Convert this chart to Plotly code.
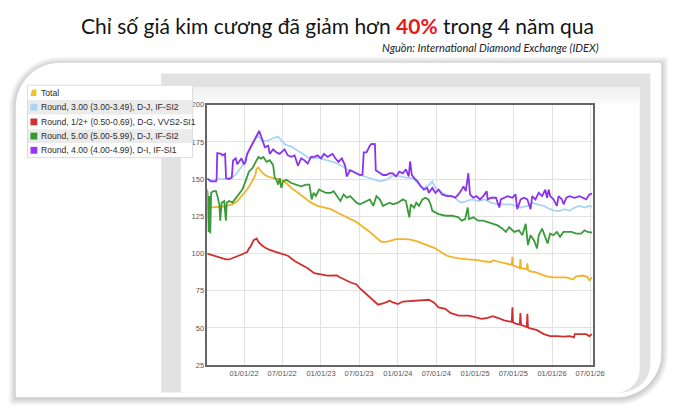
import plotly.graph_objects as go

W, H = 690, 419

# ---------------- data ----------------
series_names = [
    "Total",
    "Round, 3.00 (3.00-3.49), D-J, IF-SI2",
    "Round, 1/2+ (0.50-0.69), D-G, VVS2-SI1",
    "Round, 5.00 (5.00-5.99), D-J, IF-SI2",
    "Round, 4.00 (4.00-4.99), D-I, IF-SI1",
]

total_dates = ["2021-07-10","2021-08-05","2021-09-21","2021-11-07","2021-11-30","2021-12-24","2022-01-16","2022-02-09","2022-02-24","2022-03-02","2022-03-10","2022-03-25","2022-04-10","2022-05-03","2022-05-27","2022-06-27","2022-07-20","2022-08-13","2022-09-14","2022-10-14","2022-11-15","2022-12-16","2023-01-16","2023-02-17","2023-03-18","2023-04-18","2023-05-19","2023-06-19","2023-07-20","2023-08-21","2023-09-21","2023-10-14","2023-11-07","2023-11-30","2023-12-23","2024-01-24","2024-02-24","2024-03-26","2024-04-26","2024-05-27","2024-06-27","2024-07-28","2024-08-21","2024-09-14","2024-10-14","2024-11-30","2024-12-24","2025-01-16","2025-02-09","2025-03-02","2025-03-18","2025-03-26","2025-04-18","2025-05-11","2025-06-04","2025-06-24","2025-06-27","2025-06-30","2025-07-20","2025-08-01","2025-08-04","2025-08-07","2025-08-21","2025-09-03","2025-09-06","2025-09-09","2025-09-21","2025-10-14","2025-11-07","2025-12-08","2026-01-08","2026-02-08","2026-03-10","2026-04-10","2026-04-26","2026-05-27","2026-06-19","2026-06-27","2026-07-10"]
total_values = [131,131,131.6,133.1,135.3,139,143,148.5,152.8,157.2,157.9,155,152.8,151.3,150.7,149.6,147.4,144.1,140.8,137.5,134.2,132,130.9,129.8,127.6,125.4,123.2,121.1,117.8,114.5,110.6,107.9,107.9,109,109.7,109.7,109.5,108.5,107,105.5,103.5,100.5,98.5,97.5,96.7,96,95.8,95.6,94.8,94.5,94.3,95.5,94.5,93.8,93,92.3,97.8,92,91,90.1,96.3,90.1,89.9,89.5,93.4,88.8,87.9,87.5,86.2,84.6,84,84.2,84,82.5,84.6,85.2,84.2,82,84]

r300_dates = ["2021-07-10","2021-08-05","2021-09-06","2021-10-07","2021-11-07","2021-11-23","2021-12-08","2021-12-24","2022-01-08","2022-01-24","2022-02-09","2022-02-24","2022-03-10","2022-03-25","2022-04-10","2022-04-26","2022-05-11","2022-05-27","2022-06-12","2022-06-27","2022-07-12","2022-07-28","2022-08-13","2022-08-29","2022-09-14","2022-09-29","2022-10-14","2022-10-30","2022-11-15","2022-11-30","2022-12-16","2023-01-01","2023-02-01","2023-03-02","2023-03-18","2023-04-03","2023-04-18","2023-05-03","2023-06-04","2023-07-05","2023-08-05","2023-09-06","2023-10-07","2023-11-07","2023-12-08","2024-01-08","2024-02-08","2024-03-10","2024-03-26","2024-04-10","2024-05-03","2024-05-27","2024-06-12","2024-06-27","2024-07-20","2024-08-13","2024-09-06","2024-09-29","2024-10-14","2024-10-30","2024-11-23","2024-12-16","2025-01-16","2025-02-16","2025-03-18","2025-04-18","2025-05-19","2025-06-19","2025-07-12","2025-08-05","2025-09-06","2025-09-29","2025-10-22","2025-11-23","2025-12-23","2026-01-16","2026-02-08","2026-03-02","2026-03-26","2026-04-18","2026-05-11","2026-06-04","2026-06-27","2026-07-10"]
r300_values = [150,149.5,150,150,151.5,153,156,159,164,169,173.7,177,179,176,175.5,176,177,178,178.5,176,173.7,172.5,172,170.5,169.3,168,166.5,164.5,164,164,164.5,164,162.7,161.5,160.5,159.4,158.3,156.5,155,152.8,151.3,150,148.5,149.5,152.5,152,151,150.7,148.5,146.5,144.1,146,148.5,144.1,141.9,139.7,138.6,137.5,135.3,134.2,135.3,136.4,135.3,136.4,134.2,133.1,133.1,133.1,132,130.9,132,134.2,133.1,132,129.8,128.7,128.7,129.8,128.7,130.9,132,130.9,132,131.5]

r050_dates = ["2021-07-10","2021-08-05","2021-08-21","2021-09-06","2021-09-21","2021-10-07","2021-10-22","2021-11-07","2021-11-23","2021-12-08","2021-12-24","2022-01-08","2022-01-16","2022-01-24","2022-02-01","2022-02-16","2022-03-02","2022-03-10","2022-03-25","2022-04-10","2022-05-03","2022-05-27","2022-06-27","2022-07-28","2022-08-29","2022-09-29","2022-10-30","2022-11-30","2023-01-01","2023-02-01","2023-03-18","2023-03-26","2023-04-18","2023-05-19","2023-06-19","2023-07-05","2023-08-05","2023-09-06","2023-09-29","2023-10-22","2023-11-23","2023-12-08","2024-01-01","2024-01-24","2024-03-10","2024-04-26","2024-05-27","2024-06-19","2024-07-12","2024-08-13","2024-09-06","2024-10-14","2024-11-30","2025-01-01","2025-02-01","2025-03-02","2025-03-26","2025-04-18","2025-05-19","2025-06-24","2025-06-27","2025-06-30","2025-07-12","2025-08-01","2025-08-04","2025-08-07","2025-08-21","2025-09-03","2025-09-06","2025-09-09","2025-09-21","2025-10-22","2025-11-23","2025-12-23","2026-01-24","2026-02-24","2026-03-26","2026-04-15","2026-04-19","2026-05-11","2026-06-12","2026-06-27","2026-07-10"]
r050_values = [100,98.8,98,97.3,96.5,96,96,96.8,97.8,98.5,99.5,100.5,101,103.3,104.6,109,110.1,108,105.7,104,102.4,101.3,100,98.5,95,92.8,90.1,86.8,85.7,85.1,85.3,84.4,82.9,80.7,79.2,76.5,72.6,68.2,65.6,66.4,68.2,67.1,66,67.7,68.2,68.6,68.9,67.1,63.8,62.8,60.1,58.3,58.3,57.2,56.1,56.8,57.9,56.8,55,54,63.8,53.8,52.9,52.2,59.9,52,51.3,50.6,59.4,50.2,49.6,48.5,45.8,44.5,44.5,44.1,44.5,43.6,45.8,45.8,45.8,44.5,45.8]

r500_dates = ["2021-07-10","2021-07-12","2021-07-17","2021-07-20","2021-07-25","2021-07-29","2021-08-08","2021-08-21","2021-08-28","2021-09-06","2021-09-10","2021-09-17","2021-09-29","2021-10-07","2021-10-11","2021-10-22","2021-11-07","2021-11-30","2021-12-24","2022-01-08","2022-01-24","2022-02-09","2022-02-24","2022-03-10","2022-03-22","2022-04-03","2022-04-18","2022-05-03","2022-05-19","2022-05-27","2022-06-04","2022-06-12","2022-06-19","2022-06-27","2022-07-05","2022-07-20","2022-08-13","2022-09-06","2022-09-29","2022-10-22","2022-11-07","2022-11-18","2022-11-27","2022-12-08","2022-12-23","2023-01-08","2023-01-24","2023-02-17","2023-03-02","2023-03-18","2023-04-03","2023-04-18","2023-05-03","2023-05-19","2023-06-04","2023-06-19","2023-07-05","2023-07-20","2023-08-05","2023-08-21","2023-09-06","2023-09-21","2023-10-07","2023-10-22","2023-11-07","2023-11-23","2023-12-08","2024-01-01","2024-01-24","2024-02-08","2024-02-24","2024-03-02","2024-03-18","2024-03-28","2024-04-10","2024-04-26","2024-05-11","2024-05-24","2024-06-04","2024-06-12","2024-07-12","2024-08-13","2024-09-14","2024-10-14","2024-10-30","2024-11-15","2024-11-27","2024-12-03","2024-12-24","2025-01-16","2025-02-09","2025-03-02","2025-03-25","2025-04-18","2025-05-11","2025-05-27","2025-06-12","2025-07-05","2025-07-28","2025-08-13","2025-08-29","2025-09-09","2025-09-21","2025-10-07","2025-10-22","2025-10-30","2025-11-15","2025-11-30","2025-12-11","2025-12-23","2026-01-08","2026-01-24","2026-02-08","2026-02-24","2026-03-10","2026-04-03","2026-04-26","2026-05-19","2026-06-04","2026-06-19","2026-07-10"]
r500_values = [143,140.8,114.5,138.6,113.4,140.8,141.9,141.9,138.6,133.1,122,134.2,135.3,122,134.2,135.3,134.2,138.6,143,148.5,155,157.2,161.6,164.9,163.8,164.9,161.6,162.7,159.4,150.7,149.6,146.3,150.7,144.1,148.5,149.6,147.4,146.3,145.2,146.3,146.3,136.4,140.8,138.6,143,141.9,140.8,140.8,141.9,138.6,135.3,139.7,137.5,138.6,136.4,134.2,133.1,134.2,135.3,136.4,132,138.6,136.4,132,133.1,134.2,133.1,134.2,136.4,135.3,124.3,133.1,130.9,134.2,132,136.4,137.5,136.4,133.1,128.7,126.5,125.4,125.4,124.3,122.1,123.2,130.9,123.2,124.3,122.1,122.1,121.1,120,118.9,116.7,114.5,117.8,114.5,115.6,112.3,120,105.7,112.3,109,103.5,112.3,116.7,111.2,106.8,113.4,112.3,114.5,111.2,114.5,114.5,114.5,113.4,113.4,115.6,114.5,114]

r400_dates = ["2021-07-10","2021-07-28","2021-08-21","2021-08-24","2021-08-27","2021-09-14","2021-09-21","2021-10-03","2021-10-08","2021-10-22","2021-11-04","2021-11-10","2021-11-23","2021-11-30","2021-12-08","2021-12-20","2022-01-01","2022-01-08","2022-01-16","2022-02-01","2022-02-17","2022-03-02","2022-03-14","2022-03-25","2022-04-10","2022-04-26","2022-05-03","2022-05-19","2022-06-04","2022-06-19","2022-07-05","2022-07-12","2022-07-28","2022-08-13","2022-08-29","2022-09-14","2022-09-29","2022-10-14","2022-10-30","2022-11-15","2022-11-30","2022-12-16","2023-01-01","2023-01-16","2023-02-01","2023-02-25","2023-03-10","2023-03-25","2023-04-10","2023-04-26","2023-05-03","2023-05-19","2023-06-04","2023-06-19","2023-07-05","2023-07-17","2023-07-23","2023-08-05","2023-08-21","2023-08-29","2023-09-14","2023-09-18","2023-10-07","2023-10-22","2023-11-07","2023-11-23","2023-12-08","2023-12-23","2024-01-08","2024-01-24","2024-02-08","2024-02-21","2024-02-28","2024-03-07","2024-03-18","2024-04-03","2024-04-18","2024-05-03","2024-05-19","2024-05-27","2024-06-12","2024-06-27","2024-07-12","2024-07-28","2024-08-21","2024-09-14","2024-09-29","2024-10-14","2024-10-30","2024-11-07","2024-11-18","2024-11-30","2024-12-08","2024-12-23","2025-01-08","2025-01-24","2025-02-09","2025-02-25","2025-03-02","2025-03-18","2025-04-10","2025-04-26","2025-05-03","2025-05-19","2025-06-04","2025-06-27","2025-07-12","2025-07-20","2025-08-05","2025-08-21","2025-09-06","2025-09-21","2025-09-29","2025-10-14","2025-10-30","2025-11-15","2025-11-30","2025-12-08","2025-12-16","2025-12-23","2026-01-08","2026-01-24","2026-02-01","2026-02-17","2026-02-25","2026-03-10","2026-03-25","2026-04-18","2026-05-11","2026-05-27","2026-06-12","2026-06-27","2026-07-10"]
r400_values = [150.5,148.5,148.5,150,167.5,167,166,167,150.5,150,151,162.5,164,160,161.5,164,160,161.5,167,171.5,176,179,182.5,178,171.5,172.5,167,170,168,167,169.5,170,166,165,166,159,164,162.7,160.5,165,165,166,164,167,165,167,164,161.6,164,159,151.8,156,155,154,152.8,153,168,168,172.6,173.7,173.5,156,154,152.8,152.8,154,153.9,151.8,155,153.9,156.6,151.8,162,152.8,150.7,148.5,145.2,143,144.1,140.8,144.1,140.8,143,139.7,138.6,138.6,137.5,139.7,143,145.2,141.9,154,139.7,137.5,138.6,136.4,138.6,141.9,136.4,137.5,137.5,130.9,136.4,137.5,138.6,137.5,139.7,129.8,136.4,137.5,136.4,129.8,138.6,136.4,140.8,138.6,143,137.5,143,138.6,136.4,132,138.6,136.4,133.1,137.5,138.6,137.5,138.6,137.5,136.4,139.7,140.3]

series_dates = [total_dates, r300_dates, r050_dates, r500_dates, r400_dates]
series_values = [total_values, r300_values, r050_values, r500_values, r400_values]

y_tick_values = [25, 50, 75, 100, 125, 150, 175, 200]
x_tick_dates = ["2022-01-01", "2022-07-01", "2023-01-01", "2023-07-01", "2024-01-01",
                "2024-07-01", "2025-01-01", "2025-07-01", "2026-01-01", "2026-07-01"]
x_tick_labels = ["01/01/22", "07/01/22", "01/01/23", "07/01/23", "01/01/24",
                 "07/01/24", "01/01/25", "07/01/25", "01/01/26", "07/01/26"]

title_before = "Chỉ số giá kim cương đã giảm hơn "
title_highlight = "40%"
title_after = " trong 4 năm qua"
source_text = "Nguồn: International Diamond Exchange (IDEX)"

# ---------------- style ----------------
line_colors = ["#f0b429", "#a9d4f2", "#cf2f2f", "#3b9b3b", "#8a33ee"]
icon_colors = ["#f2c02e", "#a9d6f5", "#cc3333", "#339933", "#9933ff"]
CHART_FONT = "Liberation Sans, Arial, sans-serif"
TITLE_FONT = "Lato, Noto Sans, sans-serif"


def P(x, y):
    return f"{x / W:.5f},{1 - y / H:.5f}"


def rounded_rect(x0, y0, x1, y1, rtl=0, rtr=0, rbr=0, rbl=0):
    k = 0.5523
    d = f"M{P(x0 + rtl, y0)} L{P(x1 - rtr, y0)} "
    if rtr:
        d += f"C{P(x1 - rtr + k * rtr, y0)} {P(x1, y0 + rtr - k * rtr)} {P(x1, y0 + rtr)} "
    d += f"L{P(x1, y1 - rbr)} "
    if rbr:
        d += f"C{P(x1, y1 - rbr + k * rbr)} {P(x1 - rbr + k * rbr, y1)} {P(x1 - rbr, y1)} "
    d += f"L{P(x0 + rbl, y1)} "
    if rbl:
        d += f"C{P(x0 + rbl - k * rbl, y1)} {P(x0, y1 - rbl + k * rbl)} {P(x0, y1 - rbl)} "
    d += f"L{P(x0, y0 + rtl)} "
    if rtl:
        d += f"C{P(x0, y0 + rtl - k * rtl)} {P(x0 + rtl - k * rtl, y0)} {P(x0 + rtl, y0)} "
    return d + "Z"


def path_shape(path, fill, layer="below", line_color=None, line_width=0):
    return dict(type="path", xref="paper", yref="paper", path=path, fillcolor=fill,
                line=dict(color=line_color or fill, width=line_width), layer=layer)


def rect_shape(x0, y0, x1, y1, fill, layer="below", line_color=None, line_width=0):
    return dict(type="rect", xref="paper", yref="paper",
                x0=x0 / W, x1=x1 / W, y0=1 - y1 / H, y1=1 - y0 / H,
                fillcolor=fill, line=dict(color=line_color or fill, width=line_width), layer=layer)


fig = go.Figure()
for name, dates, vals, col in zip(series_names, series_dates, series_values, line_colors):
    fig.add_trace(go.Scatter(x=dates, y=vals, mode="lines", name=name,
                             line=dict(color=col, width=1.8), showlegend=False))

shapes = []
# card shadow
for i in range(7, 0, -1):
    shapes.append(path_shape(rounded_rect(16 - i, 60 - i + 1, 673 + i, 402 + i + 1, 45 + i, 3, 45 + i, 3),
                             "rgba(0,0,0,0.028)"))
# card
shapes.append(path_shape(rounded_rect(16, 60, 673, 402, 45, 2, 45, 2), "#ffffff"))
# grey panel and inner white panel
shapes.append(path_shape(rounded_rect(164, 71, 662, 397, 0, 0, 30, 0), "#e2e2e2"))
shapes.append(path_shape(rounded_rect(184, 85, 651, 397, 0, 0, 24, 0), "#ffffff"))
shapes.append(rect_shape(184, 85, 651, 91, "#f1f1f1"))
shapes.append(rect_shape(184, 91, 651, 97, "#f5f5f5"))
shapes.append(rect_shape(184, 97, 651, 103, "#fafafa"))

# custom legend box
shapes.append(rect_shape(28, 83, 196, 157, "#ffffff", layer="above", line_color="#dcdcdc", line_width=1))
shapes.append(rect_shape(28.5, 98, 195.5, 113, "#ebebeb", layer="above"))
shapes.append(rect_shape(28.5, 128, 195.5, 142, "#ebebeb", layer="above"))
row_centers = [90.5, 105.5, 120.5, 135, 149.5]
# Total icon (small folder-like shape)
yc = row_centers[0]
shapes.append(path_shape(f"M{P(31, yc + 3.5)} L{P(32.5, yc - 2.5)} L{P(37, yc - 3.5)} L{P(37, yc + 3.5)} Z",
                         icon_colors[0], layer="above"))
for yc, col in zip(row_centers[1:], icon_colors[1:]):
    shapes.append(rect_shape(31, yc - 3.5, 38, yc + 3.5, col, layer="above"))

annotations = []
for name, yc in zip(series_names, row_centers):
    annotations.append(dict(x=39.5 / W, y=1 - yc / H, xref="paper", yref="paper", text=name,
                            showarrow=False, xanchor="left", yanchor="middle",
                            font=dict(family=CHART_FONT, size=8.6, color="#2b2b2b")))

annotations.append(dict(
    x=343 / W, y=1 - 22 / H, xref="paper", yref="paper", showarrow=False,
    xanchor="center", yanchor="middle",
    text=f"{title_before}<span style='color:#e8191c'><b>{title_highlight}</b></span>{title_after}",
    font=dict(family=TITLE_FONT, size=21, color="#141414")))
annotations.append(dict(
    x=612 / W, y=1 - 44 / H, xref="paper", yref="paper", showarrow=False,
    xanchor="right", yanchor="middle", text=f"<i>{source_text}</i>",
    font=dict(family=TITLE_FONT, size=11, color="#222222")))

fig.update_layout(
    width=W, height=H, margin=dict(l=0, r=0, t=0, b=0),
    paper_bgcolor="#ffffff", plot_bgcolor="#ffffff",
    shapes=shapes, annotations=annotations, showlegend=False,
    xaxis=dict(type="date", range=["2021-07-11", "2026-07-12"], domain=[211 / W, 603 / W],
               tickvals=x_tick_dates, ticktext=x_tick_labels,
               showgrid=True, gridcolor="#e2e2e2", gridwidth=1,
               showline=True, linecolor="#666666", linewidth=1.5, mirror=True,
               zeroline=False, ticks="", tickfont=dict(family=CHART_FONT, size=7.5, color="#555555")),
    yaxis=dict(range=[25, 200], domain=[1 - 369 / H, 1 - 103 / H],
               tickvals=y_tick_values,
               showgrid=True, gridcolor="#e2e2e2", gridwidth=1,
               showline=True, linecolor="#666666", linewidth=1.5, mirror=True,
               zeroline=False, ticks="", tickfont=dict(family=CHART_FONT, size=7.5, color="#555555")),
)

fig.write_html("out.html", config={"displayModeBar": False})
